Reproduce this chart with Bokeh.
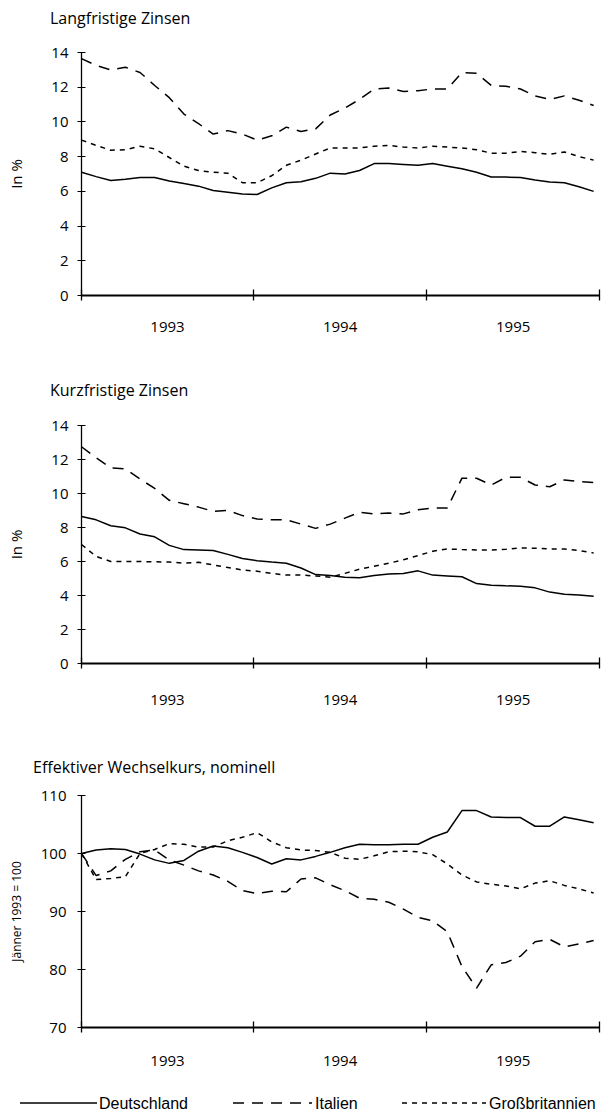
from bokeh.plotting import figure
from bokeh.models import FixedTicker, Range1d, Div
from bokeh.layouts import column
from bokeh.embed import file_html
from bokeh.resources import INLINE

FONT = "Open Sans"

# ---- data (monthly, Jan 1993 .. Dec 1995) ----
months = list(range(36))
year_labels = ["1993", "1994", "1995"]
year_bounds = [0, 11.75, 23.6, 35.4]
series_names = ["Deutschland", "Italien", "Großbritannien"]

# Langfristige Zinsen (in %)
lang_de = [7.1, 6.85, 6.62, 6.7, 6.8, 6.8, 6.6, 6.45, 6.3, 6.05, 5.95, 5.85, 5.82, 6.2, 6.5,
           6.55, 6.75, 7.05, 7.0, 7.2, 7.6, 7.6, 7.55, 7.5, 7.6, 7.45, 7.3, 7.1, 6.83, 6.82,
           6.8, 6.65, 6.54, 6.5, 6.27, 6.0]
lang_it = [13.65, 13.25, 13.0, 13.15, 12.85, 12.1, 11.4, 10.45, 9.9, 9.3, 9.5, 9.3, 8.95, 9.2, 9.7,
           9.45, 9.6, 10.4, 10.8, 11.3, 11.9, 11.95, 11.75, 11.8, 11.9, 11.9, 12.85, 12.8, 12.1, 12.05,
           11.9, 11.5, 11.3, 11.5, 11.25, 10.95]
lang_gb = [8.95, 8.65, 8.37, 8.4, 8.6, 8.45, 7.95, 7.45, 7.2, 7.1, 7.05, 6.5, 6.5, 6.9, 7.5,
           7.8, 8.15, 8.5, 8.5, 8.5, 8.6, 8.65, 8.55, 8.5, 8.6, 8.55, 8.5, 8.4, 8.2, 8.2,
           8.3, 8.23, 8.13, 8.27, 8.0, 7.8]

# Kurzfristige Zinsen (in %)
kurz_de = [8.65, 8.45, 8.1, 7.98, 7.62, 7.45, 6.95, 6.7, 6.68, 6.65, 6.42, 6.18, 6.05, 5.97, 5.9,
           5.62, 5.23, 5.17, 5.08, 5.05, 5.17, 5.27, 5.3, 5.45, 5.2, 5.15, 5.1, 4.7, 4.6, 4.57,
           4.55, 4.45, 4.2, 4.08, 4.03, 3.95]
kurz_it = [12.75, 12.1, 11.5, 11.45, 10.85, 10.3, 9.6, 9.4, 9.2, 8.95, 9.0, 8.7, 8.5, 8.45, 8.45,
           8.2, 7.95, 8.2, 8.55, 8.9, 8.8, 8.85, 8.8, 9.05, 9.15, 9.15, 10.9, 10.9, 10.5, 10.95,
           10.95, 10.5, 10.4, 10.8, 10.7, 10.65]
kurz_gb = [7.0, 6.3, 6.0, 6.0, 6.0, 5.98, 5.97, 5.9, 5.95, 5.8, 5.65, 5.5, 5.43, 5.3, 5.2,
           5.2, 5.15, 5.08, 5.3, 5.55, 5.72, 5.9, 6.1, 6.35, 6.6, 6.74, 6.7, 6.68, 6.68, 6.72,
           6.8, 6.78, 6.74, 6.74, 6.65, 6.5]

# Effektiver Wechselkurs, nominell (Jänner 1993 = 100)
wk_de = [100, 100.6, 100.8, 100.7, 99.9, 98.9, 98.3, 98.8, 100.4, 101.3, 101.0, 100.2, 99.3, 98.2, 99.1,
         98.9, 99.5, 100.2, 101.0, 101.6, 101.5, 101.5, 101.6, 101.6, 102.8, 103.7, 107.4, 107.4, 106.3, 106.2,
         106.2, 104.7, 104.7, 106.3, 105.8, 105.3]
wk_it = [100, 96.2, 97.0, 99.0, 100.3, 100.6, 98.9, 98.0, 97.0, 96.3, 95.2, 93.6, 93.1, 93.5, 93.4,
         95.6, 95.8, 94.6, 93.6, 92.3, 92.1, 91.6, 90.4, 89.0, 88.4, 86.5, 80.5, 76.8, 80.8, 81.2,
         82.3, 84.8, 85.2, 83.9, 84.4, 85.0]
wk_gb = [100, 95.5, 95.7, 96.0, 100.0, 100.7, 101.7, 101.6, 101.1, 101.1, 102.2, 102.8, 103.6, 102.0, 101.0,
         100.6, 100.5, 100.2, 99.2, 99.0, 99.6, 100.3, 100.4, 100.3, 99.8, 98.2, 96.3, 95.1, 94.7, 94.4,
         93.9, 94.9, 95.3, 94.5, 93.9, 93.2]

# ---- styles ----
LINE_STYLES = {
    "Deutschland": "solid",
    "Italien": "11 8",
    "Großbritannien": "5 5",
}
LW = 1.5
WIDTH = 606
year_label_pos = [(a + b) / 2 for a, b in zip(year_bounds[:-1], year_bounds[1:])]


def title_div(text, height, left):
    html = (f'<div style="font-family:\'{FONT}\';font-size:16px;line-height:{height}px;'
            f'padding-left:{left}px;white-space:nowrap;color:black;margin:0">{text}</div>')
    return Div(text=html, width=WIDTH, height=height, margin=0)


def make_panel(ylab, yr, yticks, series, height, top, bottom, xlab_standoff, ylab_size,
               ytick_standoff, ylab_standoff):
    p = figure(width=WIDTH, height=height, x_range=Range1d(0, 35.4), y_range=Range1d(*yr),
               output_backend="svg", toolbar_location=None,
               min_border_left=81, min_border_right=7,
               min_border_top=top, min_border_bottom=bottom)
    p.outline_line_color = None
    p.grid.visible = False
    p.background_fill_color = "white"
    p.border_fill_color = "white"

    for name, vals in zip(series_names, series):
        p.line(months, vals, line_color="black", line_width=LW, line_dash=LINE_STYLES[name])

    xa = p.xaxis[0]
    xa.ticker = FixedTicker(ticks=year_label_pos, minor_ticks=year_bounds)
    xa.major_label_overrides = {pos: lab for pos, lab in zip(year_label_pos, year_labels)}
    xa.major_tick_line_color = None
    xa.major_tick_in = 0
    xa.major_tick_out = 0
    xa.minor_tick_line_color = "black"
    xa.minor_tick_line_width = 1.3
    xa.minor_tick_in = 6
    xa.minor_tick_out = 5
    xa.axis_line_color = "black"
    xa.axis_line_width = 1.8
    xa.major_label_standoff = xlab_standoff
    xa.major_label_text_font = FONT
    xa.major_label_text_font_size = "15px"
    xa.major_label_text_color = "black"

    ya = p.yaxis[0]
    ya.ticker = FixedTicker(ticks=yticks)
    ya.major_tick_in = 4
    ya.major_tick_out = 4
    ya.major_tick_line_color = "black"
    ya.major_tick_line_width = 1.2
    ya.minor_tick_line_color = None
    ya.axis_line_color = "black"
    ya.axis_line_width = 1.3
    ya.major_label_standoff = ytick_standoff
    ya.major_label_text_font = FONT
    ya.major_label_text_font_size = "15px"
    ya.major_label_text_color = "black"
    ya.axis_label = ylab
    ya.axis_label_text_font = FONT
    ya.axis_label_text_font_size = ylab_size
    ya.axis_label_text_font_style = "normal"
    ya.axis_label_text_color = "black"
    ya.axis_label_standoff = ylab_standoff
    return p


t1 = title_div("Langfristige Zinsen", 36, 50)
p1 = make_panel("In %", (0, 14), [0, 2, 4, 6, 8, 10, 12, 14], [lang_de, lang_it, lang_gb],
                height=336, top=16, bottom=77, xlab_standoff=21, ylab_size="15px",
                ytick_standoff=9, ylab_standoff=22)
t2 = title_div("Kurzfristige Zinsen", 36, 50)
p2 = make_panel("In %", (0, 14), [0, 2, 4, 6, 8, 10, 12, 14], [kurz_de, kurz_it, kurz_gb],
                height=343, top=17, bottom=88, xlab_standoff=26, ylab_size="15px",
                ytick_standoff=9, ylab_standoff=22)
t3 = title_div("Effektiver Wechselkurs, nominell", 32, 33)
p3 = make_panel("Jänner 1993 = 100", (70, 110), [70, 80, 90, 100, 110], [wk_de, wk_it, wk_gb],
                height=307, top=12, bottom=63, xlab_standoff=23, ylab_size="12px",
                ytick_standoff=11, ylab_standoff=13)

# ---- legend row: key line + label for each series ----
SVG_DASH = {"Deutschland": "none", "Italien": "11 8", "Großbritannien": "5 5"}
leg_key = {"Deutschland": (20, 97, 99), "Italien": (233, 312, 315), "Großbritannien": (402, 486, 489)}
LEG_H = 22
LEG_Y = 13
parts = []
for name in series_names:
    x0, x1, xt = leg_key[name]
    parts.append(f'<line x1="{x0}" y1="{LEG_Y}" x2="{x1}" y2="{LEG_Y}" stroke="black" '
                 f'stroke-width="{LW}" stroke-dasharray="{SVG_DASH[name]}"/>')
    parts.append(f'<text x="{xt}" y="{LEG_Y}" dominant-baseline="central" '
                 f'font-family="{FONT}" font-size="16px" fill="black">{name}</text>')
legend_html = (f'<svg xmlns="http://www.w3.org/2000/svg" width="{WIDTH}" height="{LEG_H}" '
               f'style="display:block;overflow:visible">' + "".join(parts) + '</svg>')
legend_div = Div(text=legend_html, width=WIDTH, height=LEG_H, margin=0)

layout = column(t1, p1, t2, p2, t3, p3, legend_div, spacing=0)

open("out.html", "w").write(file_html(layout, INLINE))
